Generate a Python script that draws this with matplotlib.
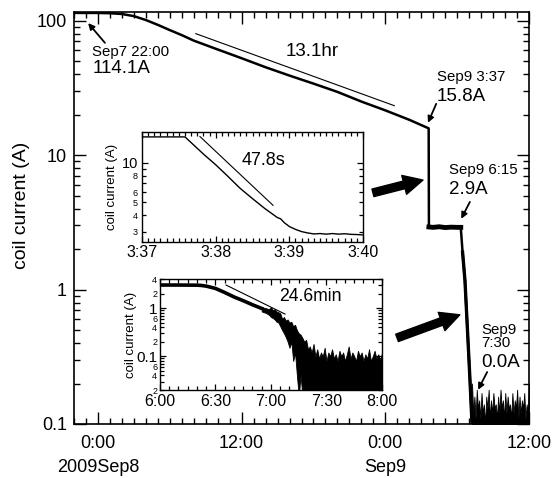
import numpy as np
import matplotlib.pyplot as plt
from matplotlib.ticker import FixedLocator, FixedFormatter, MultipleLocator

plt.rcParams['font.family'] = ['Liberation Sans', 'DejaVu Sans']

# main trace: hours from 2009 Sep8 0:00 -> coil current (A)
main_t = [-2, 0, 1, 2, 3, 4, 5, 6, 7, 8, 10, 12, 14, 16, 18, 20, 22, 24, 26, 27.62]
main_i = [114.1, 114, 113.5, 112, 108, 101, 93, 85, 78, 71, 61, 52.5, 45, 39, 34, 29.5, 25, 21.5, 18.3, 15.8]
plateau_t = [27.64, 28, 28.5, 29, 29.5, 30, 30.3]
plateau_i = [2.92, 2.9, 2.93, 2.89, 2.91, 2.9, 2.9]
drop_t = [30.45, 30.65, 30.85, 31.05, 31.24]
drop_i = [1.9, 1.17, 0.52, 0.23, 0.1]
tail_hi = [0.2, 0.12, 0.16, 0.11, 0.18, 0.13, 0.15, 0.11, 0.17, 0.12, 0.14, 0.1, 0.16,
           0.13, 0.18, 0.11, 0.15, 0.12, 0.17, 0.13, 0.14, 0.11, 0.16, 0.12, 0.18,
           0.13, 0.15, 0.11, 0.17, 0.12, 0.16, 0.13, 0.14, 0.11, 0.17, 0.12, 0.15,
           0.13, 0.18, 0.11, 0.16, 0.12, 0.15, 0.13, 0.17, 0.11, 0.14, 0.12, 0.2]
fit_main_t = [8.17, 24.75]
fit_main_i = [80, 23.3]

# inset 1: seconds after Sep9 3:37
in1_t = [0, 20, 35, 40, 50, 60, 70, 80, 90, 100, 106, 110, 113, 116, 120, 125, 130,
         135, 140, 145, 150, 155, 160, 165, 170, 175, 180]
in1_i = [15.8, 15.8, 15.8, 14.3, 11.7, 9.7, 7.9, 6.4, 5.35, 4.5, 4.1, 3.85, 3.75, 3.5,
         3.28, 3.12, 3.0, 2.93, 2.88, 2.9, 2.87, 2.9, 2.87, 2.89, 2.86, 2.85, 2.83]
fit1_t = [47.2, 106.7]
fit1_i = [15.9, 4.76]

# inset 2: minutes after Sep9 6:00
in2_t = [0, 10, 20, 22, 25, 30, 35, 40, 45, 50, 55]
in2_i = [3.0, 3.0, 2.98, 2.95, 2.85, 2.55, 2.1, 1.7, 1.42, 1.17, 0.98]
noise2_hi = [1.05, 1.02, 1.0, 0.97, 0.95, 1.05, 0.9, 0.95, 0.85, 0.82, 0.78, 0.6, 0.65,
             0.55, 0.58, 0.5, 0.52, 0.42, 0.45, 0.35, 0.3, 0.28, 0.24, 0.2, 0.22, 0.14,
             0.16, 0.12, 0.18, 0.1, 0.14, 0.09, 0.12, 0.1, 0.15, 0.08, 0.12, 0.1, 0.14,
             0.09, 0.11, 0.08, 0.13, 0.1, 0.12, 0.08, 0.11, 0.16, 0.09, 0.12, 0.1, 0.08,
             0.13, 0.1, 0.12, 0.08, 0.11, 0.09, 0.14, 0.08, 0.1, 0.13, 0.09, 0.11, 0.08, 0.12]
noise2_lo = [0.85, 0.82, 0.8, 0.76, 0.72, 0.65, 0.62, 0.58, 0.52, 0.5, 0.42, 0.35, 0.3,
             0.25, 0.2, 0.15, 0.2, 0.08, 0.12, 0.04, 0.015, 0.04, 0.015] + [0.015] * 43
fit2_t = [35.7, 67.6]
fit2_i = [3.0, 0.75]

fig = plt.figure(figsize=(5.54, 4.78), dpi=100)
ax = fig.add_axes([0.1336, 0.113, 0.8213, 0.862])

ax.plot(main_t + plateau_t + drop_t, main_i + plateau_i + drop_i, color='k', lw=1.8)
ax.plot(plateau_t, plateau_i, color='k', lw=3.5)
ax.plot(drop_t, drop_i, color='k', lw=2.4)
tail_t = np.linspace(31.24, 36, len(tail_hi))
ax.fill_between(tail_t, 0.05, tail_hi, color='k', lw=0.6)
ax.plot(fit_main_t, fit_main_i, color='k', lw=0.8)

ax.set_yscale('log')
ax.set_xlim(-2, 36)
ax.set_ylim(0.1, 116)
ax.set_xticks([0, 12, 24, 36])
ax.set_xticklabels(['0:00\n2009Sep8', '12:00', '0:00\nSep9', '12:00'], fontsize=13)
for lbl in ax.get_xticklabels():
    lbl.set_linespacing(1.5)
ax.xaxis.set_minor_locator(MultipleLocator(1))
ax.yaxis.set_major_locator(FixedLocator([0.1, 1, 10, 100]))
ax.yaxis.set_major_formatter(FixedFormatter(['0.1', '1', '10', '100']))
ax.tick_params(axis='y', labelsize=13)
ax.tick_params(which='both', direction='in', top=True, right=True, width=1)
ax.tick_params(which='major', length=8.5)
ax.tick_params(which='minor', length=4.5)
ax.tick_params(axis='x', which='major', pad=8)
ax.tick_params(axis='y', which='major', pad=5)
for s in ax.spines.values():
    s.set_linewidth(1.2)
ax.set_ylabel('coil current (A)', fontsize=14)
ax.yaxis.set_label_coords(-0.097, 0.53)

# labels and arrows (axes fraction)
def label(x, y, txt, size):
    ax.text(x, y, txt, transform=ax.transAxes, fontsize=size, ha='left', va='center')

def arrow(tail, head, thick=False):
    if thick:
        props = dict(arrowstyle='simple,head_length=0.7,head_width=0.7,tail_width=0.28',
                     mutation_scale=20, fc='k', ec='k', shrinkA=0, shrinkB=0)
    else:
        props = dict(arrowstyle='-|>', lw=1.3, color='k', mutation_scale=9,
                     shrinkA=0, shrinkB=0)
    ax.annotate('', xy=head, xytext=tail, xycoords='axes fraction',
                textcoords='axes fraction', arrowprops=props)

label(0.040, 0.903, 'Sep7 22:00', 10.8)
label(0.040, 0.862, '114.1A', 13.5)
arrow((0.068, 0.925), (0.031, 0.973))
ax.text(0.523, 0.903, '13.1hr', transform=ax.transAxes, fontsize=13.5, ha='center', va='center')
label(0.798, 0.842, 'Sep9 3:37', 10.8)
label(0.798, 0.794, '15.8A', 13.5)
arrow((0.796, 0.777), (0.778, 0.731))
label(0.824, 0.617, 'Sep9 6:15', 10.8)
label(0.824, 0.570, '2.9A', 13.5)
arrow((0.870, 0.539), (0.851, 0.498))
label(0.895, 0.228, 'Sep9', 10.8)
label(0.895, 0.197, '7:30', 10.8)
label(0.895, 0.150, '0.0A', 13.5)
arrow((0.908, 0.126), (0.888, 0.083))
arrow((0.657, 0.561), (0.767, 0.592), thick=True)
arrow((0.710, 0.209), (0.848, 0.265), thick=True)

# inset 1
ax1 = fig.add_axes([0.2563, 0.4937, 0.399, 0.230])
ax1.plot(in1_t, in1_i, color='k', lw=1.0)
ax1.plot(fit1_t, fit1_i, color='k', lw=0.8)
ax1.set_yscale('log')
ax1.set_xlim(0, 180)
ax1.set_ylim(2.5, 17.2)
ax1.set_xticks([0, 60, 120, 180])
ax1.set_xticklabels(['3:37', '3:38', '3:39', '3:40'], fontsize=11.5)
ax1.xaxis.set_minor_locator(MultipleLocator(5))
ax1.yaxis.set_major_locator(FixedLocator([10]))
ax1.yaxis.set_major_formatter(FixedFormatter(['10']))
ax1.yaxis.set_minor_locator(FixedLocator([3, 4, 5, 6, 7, 8, 9]))
ax1.yaxis.set_minor_formatter(FixedFormatter(['3', '4', '5', '6', '', '8', '']))
ax1.tick_params(axis='y', which='major', labelsize=10.5)
ax1.tick_params(axis='y', which='minor', labelsize=6.5)
ax1.tick_params(which='both', direction='in', top=True, right=True, width=0.9)
ax1.tick_params(which='major', length=4.5, pad=2.5)
ax1.tick_params(which='minor', length=2.6, pad=3)
for s in ax1.spines.values():
    s.set_linewidth(1.0)
ax1.set_ylabel('coil current (A)', fontsize=9.5)
ax1.yaxis.set_label_coords(-0.11, 0.5)
ax1.text(0.548, 0.745, '47.8s', transform=ax1.transAxes, fontsize=13, ha='center', va='center')

# inset 2
ax2 = fig.add_axes([0.2888, 0.1841, 0.4007, 0.2322])
ax2.plot(in2_t, in2_i, color='k', lw=2.6)
noise2_t = np.arange(55, 55 + len(noise2_hi))
ax2.fill_between(noise2_t, noise2_lo, noise2_hi, color='k', lw=0.6)
ax2.plot(fit2_t, fit2_i, color='k', lw=0.8)
ax2.set_yscale('log')
ax2.set_xlim(0, 120)
ax2.set_ylim(0.02, 4)
ax2.set_xticks([0, 30, 60, 90, 120])
ax2.set_xticklabels(['6:00', '6:30', '7:00', '7:30', '8:00'], fontsize=11.5)
ax2.xaxis.set_minor_locator(MultipleLocator(5))
ax2.yaxis.set_major_locator(FixedLocator([0.1, 1]))
ax2.yaxis.set_major_formatter(FixedFormatter(['0.1', '1']))
minor2 = [0.02, 0.03, 0.04, 0.05, 0.06, 0.07, 0.08, 0.09,
          0.2, 0.3, 0.4, 0.5, 0.6, 0.7, 0.8, 0.9, 2, 3, 4]
minor2_lbl = ['2', '', '4', '', '6', '', '', '', '2', '', '4', '', '6', '', '', '', '2', '', '4']
ax2.yaxis.set_minor_locator(FixedLocator(minor2))
ax2.yaxis.set_minor_formatter(FixedFormatter(minor2_lbl))
ax2.tick_params(axis='y', which='major', labelsize=11)
ax2.tick_params(axis='y', which='minor', labelsize=6.5)
ax2.tick_params(which='both', direction='in', top=True, right=True, width=0.9)
ax2.tick_params(which='major', length=4.5, pad=2)
ax2.tick_params(which='minor', length=2.6, pad=2)
ax2.tick_params(axis='x', which='major', pad=3)
for s in ax2.spines.values():
    s.set_linewidth(1.0)
ax2.set_ylabel('coil current (A)', fontsize=9.5)
ax2.yaxis.set_label_coords(-0.105, 0.5)
ax2.text(0.676, 0.838, '24.6min', transform=ax2.transAxes, fontsize=12.7, ha='center', va='center')

fig.savefig('out.png', dpi=100)
